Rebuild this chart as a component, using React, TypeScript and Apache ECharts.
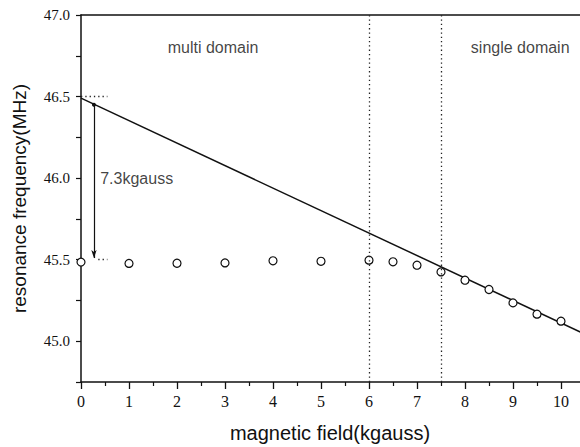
import React, { useEffect, useRef } from "react";
import * as echarts from "echarts";

const fieldValues = [0, 1, 2, 3, 4, 5, 6, 6.5, 7, 7.5, 8, 8.5, 9, 9.5, 10];
const freqValues = [45.485, 45.477, 45.478, 45.48, 45.493, 45.49, 45.497, 45.487, 45.466, 45.425, 45.374, 45.317, 45.235, 45.166, 45.123];
const fitLineX = [0, 11];
const fitLineY = [46.49, 44.974];
const domainBoundaries = [6, 7.5];
const annotationTexts = ["multi domain", "single domain", "7.3kgauss"];
const annotationX = [2.75, 9.15, 1.16];
const annotationY = [46.8, 46.8, 46.0];
const arrowX = 0.27;
const arrowFrom = 46.45;
const arrowTo = 45.51;
const guideUpper = [0, 0.55, 46.5];
const guideLower = [0.36, 0.55, 45.5];
const xTitle = "magnetic field(kgauss)";
const yTitle = "resonance frequency(MHz)";

const SANS = "'Liberation Sans', Arial, sans-serif";
const SERIF = "'Liberation Serif', 'Times New Roman', serif";

export default function App() {
  const ref = useRef<HTMLDivElement>(null);
  useEffect(() => {
    if (!ref.current) return;
    const chart = echarts.init(ref.current, null, { renderer: "svg" });
    const points = fieldValues.map((x, i) => [x, freqValues[i]]);
    const fit = fitLineX.map((x, i) => [x, fitLineY[i]]);
    const notes = annotationTexts.map((t, i) => ({ name: t, value: [annotationX[i], annotationY[i]] }));
    const dotted = { color: "#222", width: 1.3, type: [1.3, 3] as any };
    chart.setOption({
      animation: false,
      backgroundColor: "#fff",
      grid: {
        left: 81,
        top: 15,
        right: 580 - 81 - 11 * 48,
        bottom: 65,
        containLabel: false,
        outerBoundsMode: "none",
      },
      graphic: [
        {
          type: "text",
          x: 330,
          y: 433,
          style: {
            text: xTitle,
            fontFamily: SANS,
            fontSize: 20,
            fill: "#111",
            textAlign: "center",
            textVerticalAlign: "middle",
          },
        },
      ],
      xAxis: [
        {
          type: "value",
          min: 0,
          max: 11,
          interval: 1,
          axisLine: { show: true, onZero: false, lineStyle: { color: "#111", width: 1.5 } },
          axisTick: { show: true, length: 7, lineStyle: { color: "#111", width: 1.3 } },
          minorTick: { show: true, splitNumber: 2, length: 4, lineStyle: { color: "#111", width: 1.2 } },
          axisLabel: {
            fontFamily: SERIF,
            fontSize: 16,
            color: "#111",
            margin: 11,
            hideOverlap: false,
            showMaxLabel: false,
          },
          splitLine: { show: false },
          minorSplitLine: { show: false },
        },
        {
          type: "value",
          position: "top",
          min: 0,
          max: 11,
          axisLine: { show: true, onZero: false, lineStyle: { color: "#111", width: 1.5 } },
          axisTick: { show: false },
          axisLabel: { show: false },
          splitLine: { show: false },
        },
      ],
      yAxis: {
        type: "value",
        min: 44.75,
        max: 47.0,
        interval: 0.25,
        name: yTitle,
        nameLocation: "middle",
        nameGap: 52,
        nameTextStyle: { fontFamily: SANS, fontSize: 19, color: "#111" },
        axisLine: { show: true, onZero: false, lineStyle: { color: "#111", width: 1.5 } },
        axisTick: { show: true, length: 5, lineStyle: { color: "#111", width: 1.2 } },
        axisLabel: {
          fontFamily: SERIF,
          fontSize: 15,
          color: "#111",
          margin: 11,
          formatter: (v: number) => (Math.abs(v * 2 - Math.round(v * 2)) < 1e-6 ? v.toFixed(1) : ""),
        },
        splitLine: { show: false },
      },
      series: [
        {
          type: "line",
          data: fit,
          symbol: "none",
          lineStyle: { color: "#111", width: 1.5 },
          z: 3,
          markLine: {
            silent: true,
            symbol: "none",
            label: { show: false },
            lineStyle: dotted,
            data: [
              ...domainBoundaries.map((x) => ({ xAxis: x })),
              [{ coord: [guideUpper[0], guideUpper[2]] }, { coord: [guideUpper[1], guideUpper[2]] }],
              [{ coord: [guideLower[0], guideLower[2]] }, { coord: [guideLower[1], guideLower[2]] }],
            ],
          },
        },
        {
          type: "line",
          data: [],
          markLine: {
            silent: true,
            symbol: ["circle", "arrow"],
            symbolSize: [4, 8],
            label: { show: false },
            lineStyle: { color: "#111", width: 1.2, type: "solid" },
            data: [[{ coord: [arrowX, arrowFrom] }, { coord: [arrowX, arrowTo] }]],
          },
        },
        {
          type: "scatter",
          data: points,
          symbol: "circle",
          symbolSize: 8,
          itemStyle: { color: "#fff", borderColor: "#111", borderWidth: 1.2, opacity: 1 },
          z: 4,
        },
        {
          type: "scatter",
          data: notes,
          symbolSize: 0,
          silent: true,
          label: {
            show: true,
            position: "inside",
            formatter: "{b}",
            fontFamily: SANS,
            fontSize: 16,
            color: "#111",
          },
          z: 5,
        },
      ],
    });
    return () => chart.dispose();
  }, []);
  return (
    <div
      ref={ref}
      style={{ position: "fixed", left: 0, top: 0, width: 580, height: 447, background: "#fff" }}
    />
  );
}
